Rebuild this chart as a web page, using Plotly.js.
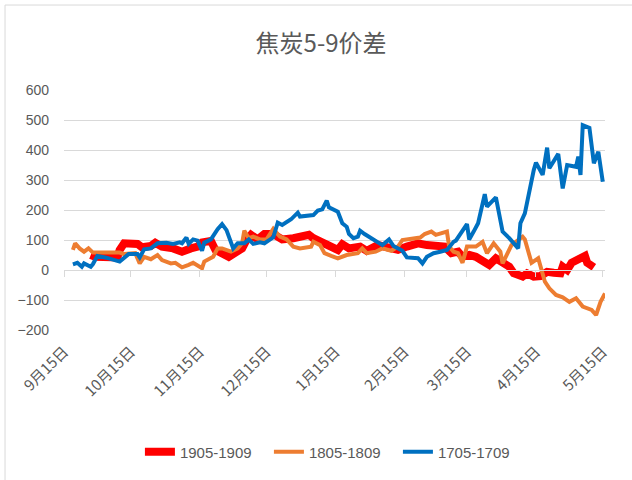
<!DOCTYPE html>
<html>
<head>
<meta charset="utf-8">
<script src="https://cdn.plot.ly/plotly-3.0.1.min.js"></script>
<style>html,body{margin:0;padding:0;background:#fff}#chart{width:632px;height:480px}</style>
</head>
<body>
<div id="chart"></div>
<script>
// ---- data ----
const chartTitle = '焦炭5-9价差';
const tickDates = ['2018-09-15','2018-10-15','2018-11-15','2018-12-15','2019-01-15','2019-02-15','2019-03-15','2019-04-15','2019-05-15'];
const tickLabels = ['9月15日','10月15日','11月15日','12月15日','1月15日','2月15日','3月15日','4月15日','5月15日'];

const name1905 = '1905-1909';
const dates1905 = ['2018-09-27','2018-09-29','2018-10-09','2018-10-10','2018-10-12','2018-10-18','2018-10-20','2018-10-24','2018-10-26','2018-10-29',
 '2018-11-03','2018-11-07','2018-11-11','2018-11-14','2018-11-16','2018-11-20','2018-11-22','2018-11-25','2018-11-28','2018-12-01',
 '2018-12-04','2018-12-06','2018-12-08','2018-12-11','2018-12-14','2018-12-18','2018-12-22','2018-12-27','2018-12-30','2019-01-03',
 '2019-01-05','2019-01-09','2019-01-12','2019-01-16','2019-01-18','2019-01-21','2019-01-26','2019-01-29','2019-02-03','2019-02-08',
 '2019-02-12','2019-02-16','2019-02-21','2019-02-25','2019-03-02','2019-03-05','2019-03-08','2019-03-11','2019-03-13','2019-03-16',
 '2019-03-19','2019-03-22','2019-03-25','2019-03-28','2019-03-31','2019-04-03','2019-04-05','2019-04-09','2019-04-11','2019-04-14',
 '2019-04-17','2019-04-20','2019-04-23','2019-04-26','2019-04-27','2019-04-29','2019-05-01','2019-05-04','2019-05-07','2019-05-08','2019-05-11'];
const values1905 = [50,44,42,67,89,87,76,80,91,78,
 72,61,72,78,92,97,67,56,44,58,
 72,100,117,102,120,120,102,106,111,117,
 106,91,83,67,86,72,78,64,83,72,
 67,78,89,83,78,78,56,61,44,50,
 44,33,17,39,22,11,-11,-22,-11,-22,
 -20,-6,-9,-11,11,0,24,33,47,24,9];

const name1805 = '1805-1809';
const dates1805 = ['2018-09-19','2018-09-20','2018-09-22','2018-09-24','2018-09-26','2018-09-28','2018-10-03','2018-10-10','2018-10-12','2018-10-16',
 '2018-10-17','2018-10-19','2018-10-21','2018-10-24','2018-10-27','2018-10-29','2018-11-02','2018-11-04','2018-11-07','2018-11-10',
 '2018-11-12','2018-11-16','2018-11-17','2018-11-21','2018-11-23','2018-11-25','2018-11-29','2018-12-02','2018-12-04','2018-12-05',
 '2018-12-07','2018-12-09','2018-12-12','2018-12-15','2018-12-18','2018-12-21','2018-12-24','2018-12-27','2018-12-30','2019-01-04',
 '2019-01-05','2019-01-08','2019-01-10','2019-01-13','2019-01-16','2019-01-20','2019-01-25','2019-01-27','2019-01-29','2019-02-02',
 '2019-02-05','2019-02-09','2019-02-12','2019-02-14','2019-02-17','2019-02-22','2019-02-24','2019-02-27','2019-03-01','2019-03-03',
 '2019-03-06','2019-03-07','2019-03-09','2019-03-11','2019-03-13','2019-03-15','2019-03-19','2019-03-22','2019-03-24','2019-03-27',
 '2019-03-30','2019-03-31','2019-04-02','2019-04-04','2019-04-09','2019-04-10','2019-04-13','2019-04-15','2019-04-16','2019-04-19',
 '2019-04-21','2019-04-24','2019-04-27','2019-04-30','2019-05-03','2019-05-06','2019-05-09','2019-05-10','2019-05-12','2019-05-14','2019-05-16'];
const values1805 = [67,89,72,61,72,58,58,58,53,58,
 56,22,44,36,50,33,22,24,9,17,
 24,6,28,44,72,72,61,72,89,131,
 106,111,102,102,137,111,102,78,72,78,
 94,83,56,47,39,50,56,72,56,61,
 72,64,78,100,104,108,120,128,117,122,
 128,78,61,56,24,78,78,94,56,89,
 61,22,50,83,111,102,24,33,39,-39,
 -61,-83,-91,-106,-94,-122,-133,-133,-150,-106,-78];

const name1705 = '1705-1709';
const dates1705 = ['2018-09-19','2018-09-21','2018-09-23','2018-09-24','2018-09-27','2018-09-28','2018-09-30','2018-10-04','2018-10-10','2018-10-14',
 '2018-10-18','2018-10-19','2018-10-21','2018-10-24','2018-10-27','2018-10-31','2018-11-03','2018-11-06','2018-11-07','2018-11-09',
 '2018-11-10','2018-11-12','2018-11-14','2018-11-16','2018-11-17','2018-11-20','2018-11-23','2018-11-25','2018-11-27','2018-11-29',
 '2018-11-30','2018-12-02','2018-12-05','2018-12-07','2018-12-09','2018-12-12','2018-12-14','2018-12-18','2018-12-20','2018-12-22',
 '2018-12-26','2018-12-29','2018-12-30','2019-01-05','2019-01-07','2019-01-09','2019-01-11','2019-01-12','2019-01-16','2019-01-18',
 '2019-01-20','2019-01-21','2019-01-23','2019-01-25','2019-01-26','2019-01-28','2019-02-01','2019-02-05','2019-02-08','2019-02-10',
 '2019-02-14','2019-02-16','2019-02-21','2019-02-23','2019-02-25','2019-02-28','2019-03-03','2019-03-06','2019-03-09','2019-03-10',
 '2019-03-15','2019-03-16','2019-03-18','2019-03-20','2019-03-23','2019-03-24','2019-03-28','2019-03-31','2019-04-03','2019-04-07',
 '2019-04-08','2019-04-10','2019-04-14','2019-04-15','2019-04-18','2019-04-20','2019-04-21','2019-04-25','2019-04-27','2019-04-29',
 '2019-05-03','2019-05-04','2019-05-05','2019-05-06','2019-05-09','2019-05-10','2019-05-11','2019-05-13','2019-05-15'];
const values1705 = [19,24,11,22,11,20,47,41,28,53,
 53,42,69,72,89,91,87,92,89,108,
 87,102,98,64,91,102,136,153,133,89,
 72,89,89,102,87,92,89,109,158,150,
 169,191,178,183,198,202,231,209,194,156,
 144,120,106,111,131,120,100,83,102,80,
 64,42,39,22,44,56,61,67,94,98,
 153,102,128,156,253,211,242,128,106,72,
 156,189,333,358,317,408,339,387,272,350,
 344,378,317,483,474,400,356,394,294];

// ---- styling ----
const grey = '#595959';
const gridGrey = '#d9d9d9';
const numFont = 'Liberation Sans, Noto Sans CJK SC, sans-serif';
const cjkFont = 'Noto Sans CJK SC, sans-serif';
const xRange = ['2018-09-15', '2019-05-16'];

const traces = [
  {x: dates1905, y: values1905, name: name1905, type: 'scatter', mode: 'lines',
   line: {color: '#FF0000', width: 8}},
  {x: dates1805, y: values1805, name: name1805, type: 'scatter', mode: 'lines',
   line: {color: '#ED7D31', width: 4}},
  {x: dates1705, y: values1705, name: name1705, type: 'scatter', mode: 'lines',
   line: {color: '#0070C0', width: 4}},
  {x: [], y: [], xaxis: 'x2', showlegend: false, hoverinfo: 'skip'}
];

const layout = {
  width: 632, height: 480,
  margin: {l: 64, r: 27, t: 90, b: 150},
  paper_bgcolor: '#ffffff', plot_bgcolor: '#ffffff',
  title: {text: chartTitle, x: 0.508, xref: 'container', xanchor: 'center',
          y: 0.91, yref: 'container', yanchor: 'middle',
          font: {family: cjkFont, size: 24, color: grey}},
  xaxis: {type: 'date', range: xRange, tickvals: tickDates, ticktext: tickLabels,
          tickangle: -45, showgrid: false, zeroline: false, showline: false, ticks: '',
          ticklabelstandoff: 9,
          tickfont: {family: cjkFont, size: 15, color: grey}, fixedrange: true},
  xaxis2: {type: 'date', range: xRange, overlaying: 'x', anchor: 'free', position: 0.25,
           tickvals: tickDates, showticklabels: false, showgrid: false, zeroline: false,
           showline: true, linecolor: gridGrey, linewidth: 1,
           ticks: 'outside', ticklen: 6, tickcolor: gridGrey, tickwidth: 1},
  yaxis: {range: [-200, 600], dtick: 100, tick0: 0, showgrid: true, gridcolor: gridGrey,
          gridwidth: 1, zeroline: false, showline: false, ticks: '',
          ticklabelstandoff: 14,
          tickfont: {family: numFont, size: 14, color: grey}},
  showlegend: true,
  legend: {orientation: 'h', x: 0.498, xanchor: 'center', y: -0.508, yanchor: 'middle',
           font: {family: numFont, size: 15, color: grey},
           entrywidth: 84, entrywidthmode: 'pixels', bgcolor: 'rgba(0,0,0,0)'},
  shapes: [
    {type: 'line', xref: 'paper', yref: 'paper', x0: -0.109, x1: -0.109, y0: -0.7, y1: 1.354,
     line: {color: gridGrey, width: 1}},
    {type: 'line', xref: 'paper', yref: 'paper', x0: -0.109, x1: 1.2, y0: 1.354, y1: 1.354,
     line: {color: gridGrey, width: 1}}
  ]
};

Plotly.newPlot('chart', traces, layout, {displayModeBar: false, staticPlot: true});
</script>
</body>
</html>
